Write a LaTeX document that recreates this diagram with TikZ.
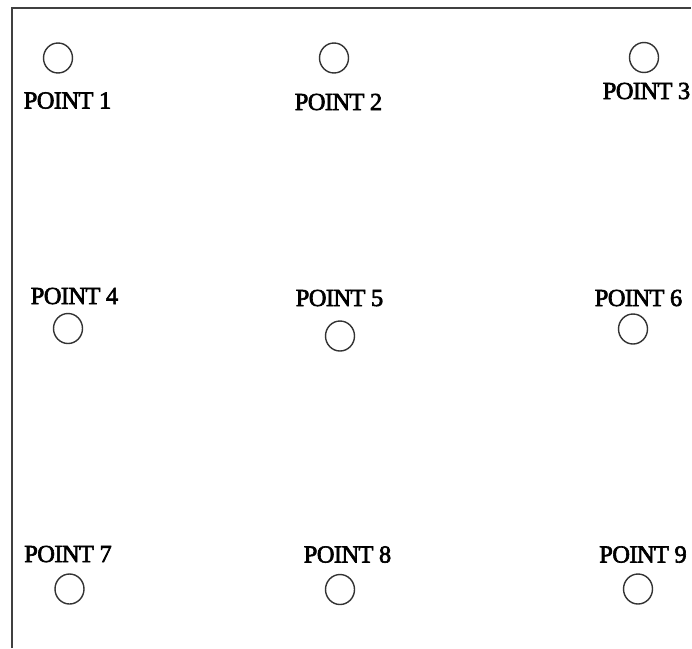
\documentclass[tikz,border=0pt]{standalone}
\usepackage{fontspec}
\setmainfont{Liberation Serif}
\newfontfamily\lblfont[FakeBold=2.5,LetterSpace=-2.5]{Liberation Serif}
\usetikzlibrary{shapes.geometric}
\begin{document}
\begin{tikzpicture}[x=1pt,y=-1pt,
  pt/.style={draw=black!80,line width=1.4pt,ellipse,minimum width=29pt,minimum height=30pt,inner sep=0pt},
  lbl/.style={anchor=base,inner sep=0pt,font=\lblfont\fontsize{24.5}{26}\selectfont,text=black}]
\useasboundingbox (0,0) rectangle (692,648);
\fill[white] (0,0) rectangle (692,648);
\coordinate (tl) at (12,7.5);
\coordinate (tr) at (691,7.5);
\coordinate (bl) at (12,648);
\draw[black!75,line width=2pt] (bl) -- (tl) -- (tr);
\node[pt] (c1) at (58,58) {};
\node[pt] (c2) at (334,58) {};
\node[pt] (c3) at (644,57.5) {};
\node[pt] (c4) at (68,328.5) {};
\node[pt] (c5) at (340,336) {};
\node[pt] (c6) at (633,329) {};
\node[pt] (c7) at (69.5,589) {};
\node[pt] (c8) at (340,589.5) {};
\node[pt] (c9) at (638,589) {};
\node[lbl] (t1) at (67.5,108.5) {POINT 1};
\node[lbl] (t2) at (338.5,110) {POINT 2};
\node[lbl] (t3) at (646.5,99) {POINT 3};
\node[lbl] (t4) at (74.5,304) {POINT 4};
\node[lbl] (t5) at (339.5,306) {POINT 5};
\node[lbl] (t6) at (638.5,306) {POINT 6};
\node[lbl] (t7) at (68,562) {POINT 7};
\node[lbl] (t8) at (347.5,562.5) {POINT 8};
\node[lbl] (t9) at (643,562.5) {POINT 9};
\end{tikzpicture}
\end{document}
